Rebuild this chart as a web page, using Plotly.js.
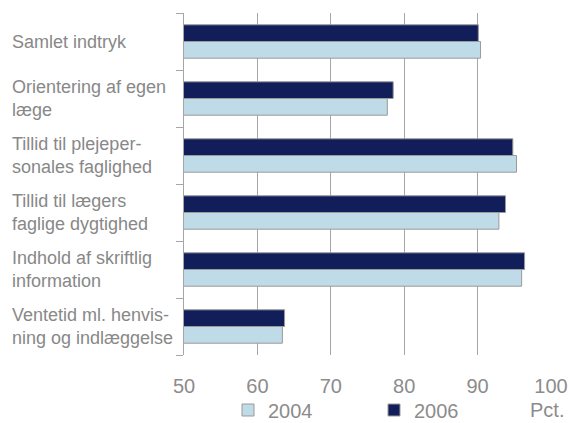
<!DOCTYPE html>
<html>
<head>
<meta charset="utf-8">
<script src="https://cdn.plot.ly/plotly-3.0.1.min.js"></script>
<style>
html,body{margin:0;padding:0;background:#fff;}
#chart{width:569px;height:423px;}
</style>
</head>
<body>
<div id="chart"></div>
<script>
var categories = [
  "Samlet indtryk",
  "Orientering af egen<br>læge",
  "Tillid til plejeper-<br>sonales faglighed",
  "Tillid til lægers<br>faglige dygtighed",
  "Indhold af skriftlig<br>information",
  "Ventetid ml. henvis-<br>ning og indlæggelse"
];
var values2004 = [90.4, 77.7, 95.3, 92.9, 96.0, 63.4];
var values2006 = [90.1, 78.5, 94.8, 93.8, 96.4, 63.7];
var xTicks = [50, 60, 70, 80, 90, 100];
var axisUnit = "Pct.";

var idx = categories.map(function(_, i){ return i; });
var FONT = 'Liberation Sans, Arial, sans-serif';

var traces = [
  {
    type: 'bar', orientation: 'h', name: '2006',
    x: values2006, y: idx,
    marker: {color: '#111E5A', line: {color: '#9a9a9a', width: 1}},
    legend: 'legend2', hoverinfo: 'x'
  },
  {
    type: 'bar', orientation: 'h', name: '2004',
    x: values2004, y: idx,
    marker: {color: '#BFDBE8', line: {color: '#9a9a9a', width: 1}},
    legend: 'legend', hoverinfo: 'x'
  }
];

var annotations = categories.map(function(c, i){
  return {
    text: c, xref: 'paper', yref: 'y', x: 0, y: i,
    xanchor: 'left', yanchor: 'middle', align: 'left',
    xshift: -174, showarrow: false,
    font: {family: FONT, size: 18, color: '#888888'}
  };
});
annotations.push({
  text: axisUnit, xref: 'paper', yref: 'paper', x: 1, y: 0,
  xanchor: 'right', yanchor: 'middle', xshift: 15, yshift: -55,
  showarrow: false,
  font: {family: FONT, size: 20, color: '#8c8c8c'}
});

function legendAt(xpx) {
  return {
    orientation: 'h', xref: 'container', yref: 'container',
    x: xpx / 569, y: 1 - 410 / 423, xanchor: 'left', yanchor: 'middle',
    itemwidth: 30,
    font: {family: FONT, size: 20, color: '#8c8c8c'},
    bgcolor: 'rgba(0,0,0,0)', borderwidth: 0
  };
}

var layout = {
  width: 569, height: 423,
  margin: {l: 184, r: 18, t: 13, b: 68, autoexpand: false},
  paper_bgcolor: '#ffffff', plot_bgcolor: '#ffffff',
  barmode: 'group', bargap: 0.414, bargroupgap: 0,
  showlegend: true,
  legend: legendAt(228),
  legend2: legendAt(374),
  xaxis: {
    range: [50, 100], tickvals: xTicks, ticktext: xTicks.map(String),
    showgrid: true, gridcolor: '#a6a6a6', gridwidth: 1,
    zeroline: false, showline: false, ticks: '',
    ticklabelstandoff: 17,
    tickfont: {family: FONT, size: 20, color: '#8c8c8c'},
    fixedrange: true
  },
  yaxis: {
    range: [5.5, -0.5], type: 'linear',
    tickvals: [-0.5, 0.5, 1.5, 2.5, 3.5, 4.5, 5.5], showticklabels: false,
    ticks: 'outside', ticklen: 7, tickcolor: '#a6a6a6', tickwidth: 1,
    showline: true, linecolor: '#a6a6a6', linewidth: 1,
    showgrid: false, zeroline: false, fixedrange: true
  },
  annotations: annotations
};

Plotly.newPlot('chart', traces, layout, {displayModeBar: false, staticPlot: true});
</script>
</body>
</html>
